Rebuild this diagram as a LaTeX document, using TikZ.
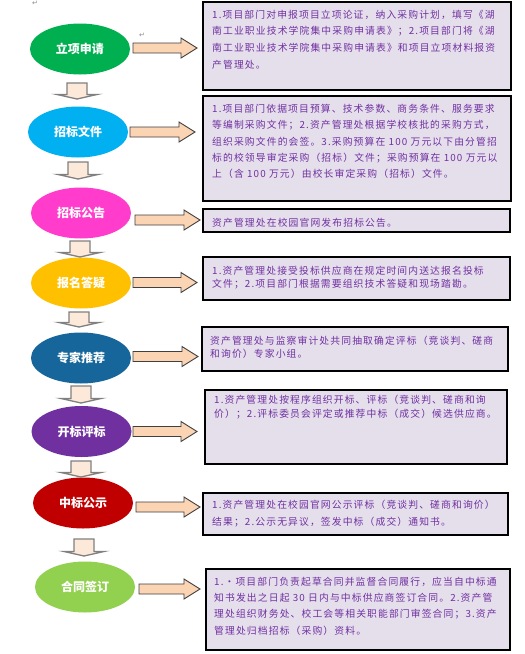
\documentclass[tikz,border=0pt]{standalone}
\usepackage{fontspec}
\usetikzlibrary{shapes.geometric}
\setmainfont{Noto Sans CJK SC}
\newfontfamily\cjk{Noto Sans CJK SC}
\newfontfamily\boxfont[LetterSpace=11.5]{Noto Sans CJK SC}
\newfontfamily\symfont{DejaVu Sans}
\definecolor{boxfill}{HTML}{E5DFEC}
\definecolor{boxtext}{HTML}{7030A0}
\definecolor{rarrfill}{HTML}{FBD4B4}
\definecolor{darrfill}{HTML}{FDE9D9}
\definecolor{cA}{HTML}{00B050}
\definecolor{cB}{HTML}{00B0F0}
\definecolor{cC}{HTML}{FF3CCB}
\definecolor{cD}{HTML}{FFC000}
\definecolor{cE}{HTML}{17669B}
\definecolor{cF}{HTML}{7030A0}
\definecolor{cG}{HTML}{C00000}
\definecolor{cH}{HTML}{92D050}
\tikzset{
  stage/.style={ellipse, minimum width=100pt, minimum height=51pt, inner sep=0pt, text=white, font=\cjk\bfseries\fontsize{12}{14}\selectfont},
  infobox/.style={draw=black, line width=1.1pt, fill=boxfill},
  infoline/.style={anchor=west, inner sep=0pt, text=boxtext, font=\boxfont\fontsize{9.8}{12}\selectfont},
  rarrow/.style={draw=black!75, line width=0.9pt, fill=rarrfill, line join=miter},
  darrow/.style={draw=black!50, line width=1.3pt, fill=darrfill, line join=miter},
  retmark/.style={text=black!45, font=\symfont\fontsize{7}{8}\selectfont, inner sep=0pt}
}
\newcommand\darr[3]{\draw[darrow] (#1-10,#2) -- (#1+10,#2) -- (#1+10,#3-4.5) -- (#1+20,#3-4.5) -- (#1,#3) -- (#1-20,#3-4.5) -- (#1-10,#3-4.5) -- cycle;}
\newcommand\rarr[3]{\draw[rarrow] (#1,#3-5) -- (#2-16,#3-5) -- (#2-16,#3-10) -- (#2,#3) -- (#2-16,#3+10) -- (#2-16,#3+5) -- (#1,#3+5) -- cycle;}
\newcommand\boxlines[4]{\foreach \t [count=\i] in {#4} {\node[infoline] at (#1, {#2+(\i-1)*#3}) {\t};}}
\begin{document}
\begin{tikzpicture}[x=1pt,y=-1pt]
\useasboundingbox (0,0) rectangle (525,654);
\fill[white] (0,0) rectangle (525,654);

\node[retmark] (m1) at (35,3) {↵};
\node[retmark] (m2) at (142,35) {↵};

% stages
\node[stage, fill=cA] (s1) at (80,49) {立项申请};
\node[stage, fill=cB] (s2) at (78,132) {招标文件};
\node[stage, fill=cC] (s3) at (81,213) {招标公告};
\node[stage, fill=cD] (s4) at (81,283) {报名答疑};
\node[stage, fill=cE] (s5) at (81,358) {专家推荐};
\node[stage, fill=cF] (s6) at (81.5,431.5) {开标评标};
\node[stage, fill=cG] (s7) at (83,503) {中标公示};
\node[stage, fill=cH] (s8) at (85,587) {合同签订};

% down arrows
\darr{77}{83}{99}
\darr{78}{162}{179}
\darr{80}{241}{257}
\darr{79}{312}{327}
\darr{81}{386}{403}
\darr{81}{461}{477}
\darr{84}{539}{556}

% right arrows
\rarr{133}{197}{48}
\rarr{130}{195}{132}
\rarr{135}{200}{220}
\rarr{133}{197}{282.5}
\rarr{133}{198}{356.5}
\rarr{133}{197}{431.5}
\rarr{136}{200}{507}
\rarr{139}{200}{589}

% boxes
\draw[infobox] (203,2) rectangle (511,90);
\boxlines{212}{15}{16.5}{1.项目部门对申报项目立项论证，纳入采购计划，填写《湖,南工业职业技术学院集中采购申请表》；2.项目部门将《湖,南工业职业技术学院集中采购申请表》和项目立项材料报资,产管理处。}

\draw[infobox] (203,96) rectangle (511,201);
\boxlines{212}{109}{16.3}{1.项目部门依据项目预算、技术参数、商务条件、服务要求,等编制采购文件；2.资产管理处根据学校核批的采购方式，,组织采购文件的会签。3.采购预算在 100 万元以下由分管招,标的校领导审定采购（招标）文件；采购预算在 100 万元以,上（含 100 万元）由校长审定采购（招标）文件。}

\draw[infobox] (203,209) rectangle (510,232);
\boxlines{212}{223}{16}{资产管理处在校园官网发布招标公告。}

\draw[infobox] (203,257) rectangle (510,300);
\boxlines{212}{271}{13.3}{1.资产管理处接受投标供应商在规定时间内送达报名投标,文件；2.项目部门根据需要组织技术答疑和现场踏勘。}

\draw[infobox] (202,327) rectangle (508,371);
\boxlines{210}{340.5}{13.5}{资产管理处与监察审计处共同抽取确定评标（竞谈判、磋商,和询价）专家小组。}

\draw[infobox] (205,390) rectangle (507,464);
\boxlines{214}{400}{14.3}{1.资产管理处按程序组织开标、评标（竞谈判、磋商和询,价）；2.评标委员会评定或推荐中标（成交）候选供应商。}

\draw[infobox] (203,493) rectangle (508,535);
\boxlines{212}{505}{17.5}{1.资产管理处在校园官网公示评标（竞谈判、磋商和询价）,结果；2.公示无异议，签发中标（成交）通知书。}

\draw[infobox] (206,569) rectangle (510,650);
\boxlines{214}{581.5}{16.5}{1.·项目部门负责起草合同并监督合同履行，应当自中标通,知书发出之日起 30 日内与中标供应商签订合同。2.资产管,理处组织财务处、校工会等相关职能部门审签合同；3.资产,管理处归档招标（采购）资料。}
\end{tikzpicture}
\end{document}
